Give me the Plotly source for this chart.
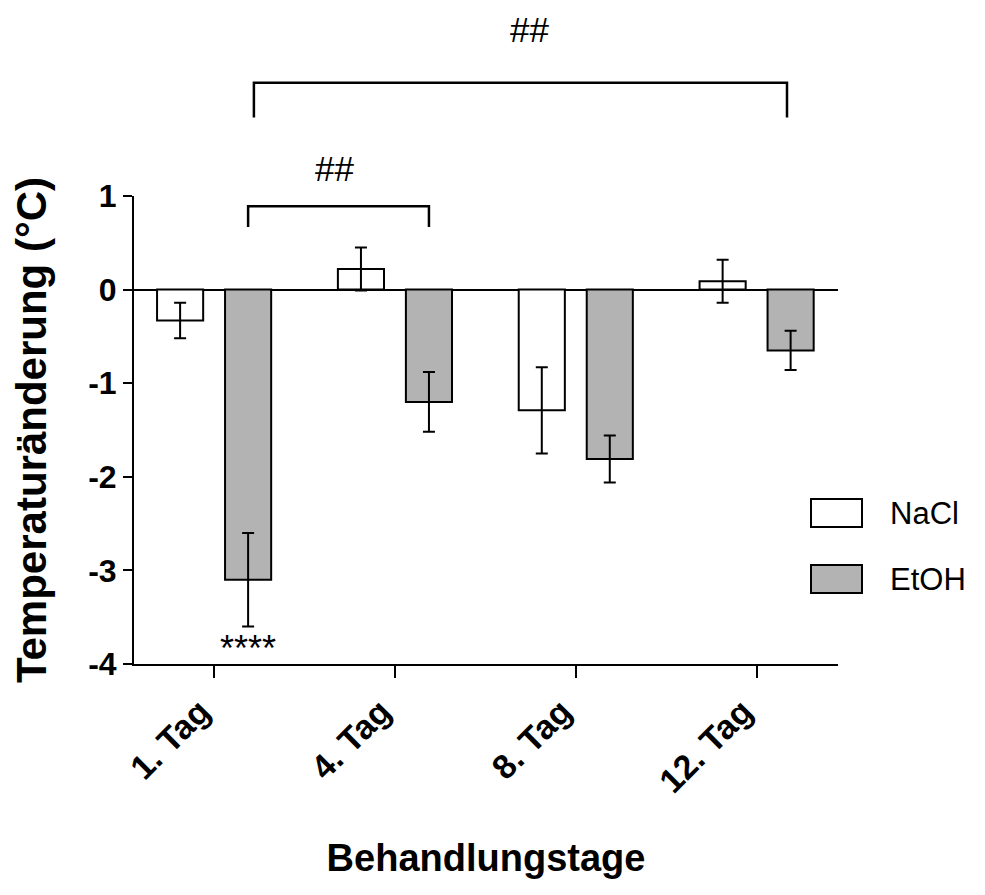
import plotly.graph_objects as go

# ---- data ----
categories = ["1. Tag", "4. Tag", "8. Tag", "12. Tag"]
nacl_mean = [-0.33, 0.22, -1.29, 0.09]
nacl_err = [0.19, 0.23, 0.46, 0.23]
etoh_mean = [-3.10, -1.20, -1.81, -0.65]
etoh_err = [0.50, 0.32, 0.25, 0.21]
y_tick_vals = [1, 0, -1, -2, -3, -4]
y_tick_text = ["1", "0", "-1", "-2", "-3", "-4"]
series_names = ["NaCl", "EtOH"]

FONT = "Arial, Liberation Sans, sans-serif"
GRAY = "#b3b3b3"
YMIN, YMAX = -4, 1
XMIN, XMAX = -0.443, 3.45
BW = 0.255
OFF = 0.188

# page body has an 8px margin; plot area: x 134..838, y 196..664 in window pixels
PAGE = 8
L, T, PW, PH = 134 - PAGE, 196 - PAGE, 704, 468
W, H = 985 - PAGE, 895 - PAGE

x = list(range(len(categories)))

fig = go.Figure()
fig.add_trace(go.Bar(
    x=x, y=nacl_mean, name=series_names[0], width=BW, offset=-OFF - BW / 2,
    marker=dict(color="white", line=dict(color="black", width=2)),
    error_y=dict(type="data", array=nacl_err, color="black", thickness=2, width=6),
    showlegend=False,
))
fig.add_trace(go.Bar(
    x=x, y=etoh_mean, name=series_names[1], width=BW, offset=OFF - BW / 2,
    marker=dict(color=GRAY, line=dict(color="black", width=2)),
    error_y=dict(type="data", array=etoh_err, color="black", thickness=2, width=6),
    showlegend=False,
))


def yp(v):
    return (v - YMIN) / (YMAX - YMIN)


shapes = []
annotations = []


def bracket(x0, x1, ytop, yleg, label, ylabel, xshift=0):
    shapes.append(dict(type="path", xref="x", yref="paper",
                       path=f"M {x0},{yp(yleg)} L {x0},{yp(ytop)} L {x1},{yp(ytop)} L {x1},{yp(yleg)}",
                       line=dict(color="black", width=2.5)))
    annotations.append(dict(x=(x0 + x1) / 2, y=yp(ylabel), xref="x", yref="paper",
                            text=label, showarrow=False, yanchor="middle", xshift=xshift,
                            font=dict(family=FONT, size=35, color="black")))


bracket(OFF, 1 + OFF, 0.89, 0.67, "##", 1.29, xshift=-4)
bracket(0.22, 3 + OFF - 0.02, 2.21, 1.84, "##", 2.78, xshift=9)

# stars under EtOH day 1
annotations.append(dict(x=OFF, y=-3.83, xref="x", yref="y", text="****",
                        showarrow=False, yanchor="middle",
                        font=dict(family=FONT, size=36, color="black")))

# legend (manual)
for i, (nm, col) in enumerate(zip(series_names, ["white", GRAY])):
    yc = 513 + i * 66
    shapes.append(dict(type="rect", xref="paper", yref="paper",
                       x0=(811 - 134) / PW, x1=(862 - 134) / PW,
                       y0=(664 - (yc - 14)) / PH, y1=(664 - (yc + 14)) / PH,
                       fillcolor=col, line=dict(color="black", width=2)))
    annotations.append(dict(x=(888 - 134) / PW, y=(664 - yc) / PH, xref="paper", yref="paper",
                            text=nm, showarrow=False, xanchor="left", yanchor="middle",
                            font=dict(family=FONT, size=31, color="black")))

fig.update_layout(
    width=W, height=H,
    margin=dict(l=L, r=W - L - PW, t=T, b=H - T - PH),
    paper_bgcolor="white", plot_bgcolor="white",
    barmode="overlay",
    shapes=shapes, annotations=annotations,
    xaxis=dict(
        range=[XMIN, XMAX], tickvals=x, ticktext=categories, tickangle=-45,
        showline=True, linecolor="black", linewidth=2,
        ticks="outside", ticklen=12, tickwidth=2, tickcolor="black",
        ticklabelshift=-14,
        showgrid=False, zeroline=False,
        tickfont=dict(family=FONT, size=34, color="black", weight="bold"),
        title=dict(text="Behandlungstage", standoff=46,
                   font=dict(family=FONT, size=38, color="black", weight="bold")),
        automargin=False,
    ),
    yaxis=dict(
        range=[YMIN, YMAX], tickvals=y_tick_vals, ticktext=y_tick_text,
        showline=True, linecolor="black", linewidth=2,
        ticks="outside", ticklen=9, tickwidth=2, tickcolor="black",
        showgrid=False, zeroline=True, zerolinecolor="black", zerolinewidth=2,
        tickfont=dict(family=FONT, size=32, color="black", weight="bold"),
        title=dict(text="Temperaturänderung (°C)", standoff=28,
                   font=dict(family=FONT, size=42, color="black", weight="bold")),
        automargin=False,
    ),
)

fig.write_html("out.html")
